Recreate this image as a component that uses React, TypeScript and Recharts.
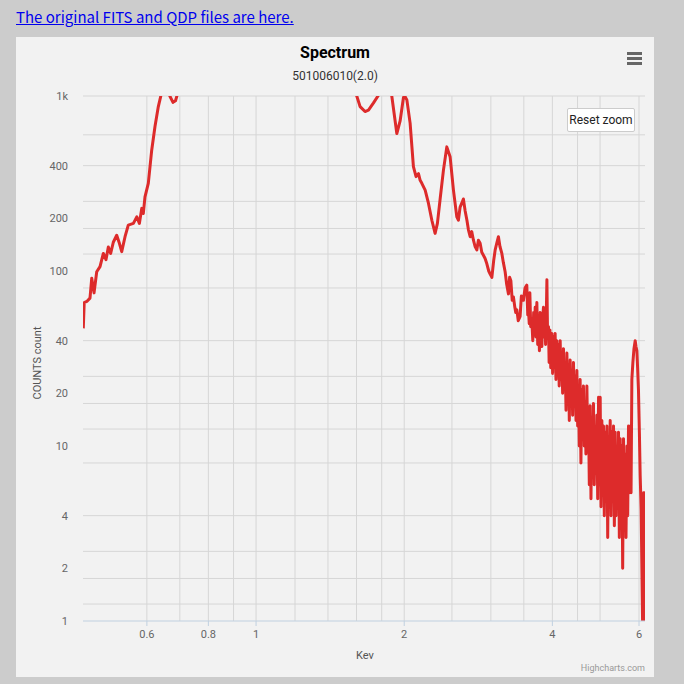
import React from 'react';
import { LineChart, Line, XAxis, YAxis, CartesianGrid } from 'recharts';

// energy (keV) and counts
const kev = [
  0.4456, 0.4475, 0.453, 0.4598, 0.4636, 0.4686, 0.4745, 0.4819, 0.4894, 0.4955,
  0.501, 0.5065, 0.5128, 0.521, 0.5276, 0.5334, 0.5417, 0.55, 0.5633, 0.5723,
  0.5793, 0.5858, 0.59, 0.5947, 0.604, 0.6137, 0.6232, 0.633, 0.643, 0.655,
  0.668, 0.678, 0.686, 0.694, 0.72, 0.76, 0.82, 0.9, 1.0, 1.1,
  1.2, 1.3, 1.4, 1.5, 1.57, 1.602, 1.627, 1.665, 1.692, 1.731,
  1.773, 1.8, 1.84, 1.87, 1.887, 1.932, 1.962, 1.993, 2.005, 2.025,
  2.056, 2.088, 2.114, 2.138, 2.155, 2.172, 2.206, 2.24, 2.276, 2.311,
  2.336, 2.366, 2.403, 2.441, 2.479, 2.518, 2.558, 2.577, 2.598, 2.618,
  2.638, 2.66, 2.682, 2.701, 2.723, 2.743, 2.765, 2.787, 2.809, 2.83,
  2.853, 2.875, 2.897, 2.92, 2.944, 2.97, 2.99, 3.014, 3.04, 3.061,
  3.085, 3.108, 3.13, 3.158, 3.18, 3.207, 3.23, 3.257, 3.275, 3.294,
  3.315, 3.334, 3.356, 3.37, 3.388, 3.41, 3.44, 3.46, 3.494, 3.52,
  3.549, 3.565, 3.577, 3.59, 3.6, 3.615, 3.634, 3.65, 3.665, 3.68,
  3.691, 3.705, 3.72, 3.735, 3.749, 3.765, 3.778, 3.793, 3.808, 3.825,
  3.837, 3.849, 3.862, 3.875, 3.888, 3.899, 3.91, 3.928, 3.94, 3.955,
  3.97, 3.99, 4.005, 4.02, 4.035, 4.052, 4.068, 4.085, 4.1, 4.116,
  4.13, 4.149, 4.165, 4.18, 4.197, 4.213, 4.23, 4.247, 4.264, 4.281,
  4.298, 4.315, 4.33, 4.347, 4.365, 4.382, 4.398, 4.415, 4.432, 4.45,
  4.468, 4.486, 4.503, 4.52, 4.537, 4.555, 4.572, 4.59, 4.608, 4.626,
  4.644, 4.662, 4.68, 4.701, 4.718, 4.736, 4.755, 4.774, 4.792, 4.81,
  4.829, 4.848, 4.866, 4.886, 4.905, 4.926, 4.945, 4.965, 4.985, 5.003,
  5.022, 5.042, 5.06, 5.081, 5.1, 5.12, 5.14, 5.163, 5.182, 5.202,
  5.222, 5.243, 5.263, 5.284, 5.304, 5.325, 5.346, 5.367, 5.388, 5.41,
  5.43, 5.451, 5.472, 5.494, 5.516, 5.537, 5.558, 5.58, 5.6, 5.622,
  5.645, 5.669, 5.69, 5.712, 5.735, 5.757, 5.78, 5.802, 5.83, 5.86,
  5.893, 5.915, 5.94, 5.96, 5.984, 6.01, 6.032, 6.06, 6.1, 6.13,
  6.15, 6.17,
];

const counts = [
  47, 66, 67, 70, 91, 75, 99, 106, 126, 116,
  137, 126, 146, 160, 144, 129, 157, 183, 187, 204,
  187, 228, 213, 265, 317, 490, 670, 870, 1050, 1250,
  1000, 920, 940, 1050, 1400, 1800, 2300, 2600, 2700, 2500,
  2200, 1900, 1600, 1300, 1100, 1000, 870, 815, 830, 910,
  1010, 1150, 1250, 1100, 1000, 610, 720, 980, 1000, 950,
  700, 395, 346, 360, 330, 317, 290, 244, 195, 164,
  187, 258, 377, 512, 450, 290, 204, 195, 232, 244,
  258, 220, 195, 172, 157, 168, 150, 138, 132, 150,
  144, 128, 123, 118, 110, 100, 96, 92, 115, 132,
  145, 157, 138, 126, 112, 99, 84, 74, 92, 88,
  68, 71, 62, 58, 60, 52, 55, 72, 68, 80,
  83, 56, 60, 50, 75, 48, 52, 40, 58, 44,
  62, 42, 66, 38, 52, 35, 58, 40, 37, 55,
  62, 42, 60, 38, 56, 89, 46, 48, 30, 46,
  28, 44, 26, 42, 30, 44, 24, 40, 27, 38,
  22, 40, 24, 34, 20, 36, 22, 30, 16, 34,
  19, 29, 14, 31, 18, 27, 15, 30, 17, 25,
  14, 27, 13, 22, 10, 24, 8, 21, 12, 22,
  10, 18, 9, 22, 11, 16, 6, 17, 5, 14,
  8, 17.5, 6, 13, 7, 15, 5, 19, 6, 19,
  4.5, 14, 7, 13, 4, 12, 5, 13, 3, 11,
  6, 14, 4, 12, 5, 13, 3.5, 12, 4, 10,
  5, 12, 3, 11, 5, 10, 2, 11, 4, 9,
  3, 10, 4, 13, 5.4, 13, 5.4, 24, 30, 36,
  40, 37, 35, 28, 21, 12, 6.8, 4.3, 1, 5.4,
  5.4, 1,
];

const xTicks = [0.6, 0.8, 1, 2, 4, 6];
const yTicks = [1, 2, 4, 10, 20, 40, 100, 200, 400, 1000];

const xGrid = [
  0.6, 0.65, 0.7, 0.75, 0.8, 0.85, 0.9, 0.95, 1, 1.2, 1.4, 1.5, 1.6, 1.8,
  2, 2.5, 3, 3.5, 4, 4.5, 5, 5.5, 6,
];
const yGrid = [
  1, 1.25, 1.5, 1.75, 2, 2.5, 3, 3.5, 4, 6, 8,
  10, 12.5, 15, 17.5, 20, 25, 30, 35, 40, 60, 80,
  100, 125, 150, 175, 200, 250, 300, 350, 400, 600, 800, 1000,
];

const font = 'Roboto, "Noto Sans", sans-serif';

const App: React.FC = () => {
  const chartData = kev.map((k, i) => ({ kev: k, counts: counts[i] }));

  return (
    <div style={{ position: 'absolute', left: 0, top: 0, width: 684, height: 684, background: '#cccccc', fontFamily: font }}>
      <a
        href="#"
        style={{ position: 'absolute', left: 16, top: 6, fontSize: 15, color: '#0000ee', fontFamily: '"Noto Sans CJK JP", sans-serif', textDecoration: 'underline' }}
      >
        The original FITS and QDP files are here.
      </a>

      <div style={{ position: 'absolute', left: 16, top: 37, width: 638, height: 640, background: '#f2f2f2' }} />

      <div style={{ position: 'absolute', left: 0, top: 0 }}>
        <LineChart width={684} height={684} data={chartData} margin={{ top: 96, right: 39, bottom: 33, left: 53 }}>
          <CartesianGrid stroke="#d6d6d6" horizontalValues={yGrid} verticalValues={xGrid} />
          <XAxis
            dataKey="kev"
            type="number"
            scale="log"
            domain={[0.445, 6.17]}
            allowDataOverflow
            ticks={xTicks}
            height={30}
            axisLine={{ stroke: '#c0d0e0' }}
            tickLine={{ stroke: '#c0d0e0' }}
            tickSize={5}
            tickMargin={4}
            tick={{ fill: '#666', fontSize: 11, fontFamily: font }}
          />
          <YAxis
            type="number"
            scale="log"
            domain={[1, 1000]}
            allowDataOverflow
            ticks={yTicks}
            width={30}
            axisLine={false}
            tickLine={false}
            tickSize={0}
            tickMargin={15}
            tick={{ fill: '#666', fontSize: 11, fontFamily: font }}
            tickFormatter={(v: number) => (v >= 1000 ? `${v / 1000}k` : `${v}`)}
          />
          <Line
            type="linear"
            dataKey="counts"
            stroke="#dd2b2b"
            strokeWidth={3}
            strokeLinejoin="round"
            dot={false}
            isAnimationActive={false}
          />
        </LineChart>
      </div>

      <div style={{ position: 'absolute', left: 16, width: 638, top: 43, textAlign: 'center', fontSize: 16, fontWeight: 'bold', color: '#000', lineHeight: '20px' }}>
        Spectrum
      </div>
      <div style={{ position: 'absolute', left: 16, width: 638, top: 68, textAlign: 'center', fontSize: 12, color: '#333', lineHeight: '16px' }}>
        501006010(2.0)
      </div>

      {/* menu icon */}
      <div style={{ position: 'absolute', left: 627, top: 52, width: 15, height: 3, background: '#666' }} />
      <div style={{ position: 'absolute', left: 627, top: 57, width: 15, height: 3, background: '#666' }} />
      <div style={{ position: 'absolute', left: 627, top: 62, width: 15, height: 3, background: '#666' }} />

      <div
        style={{
          position: 'absolute', left: 567, top: 108, width: 68, height: 24, boxSizing: 'border-box',
          background: '#fff', border: '1px solid #cccccc', borderRadius: 2, fontSize: 12, color: '#222',
          display: 'flex', alignItems: 'center', justifyContent: 'center',
        }}
      >
        Reset zoom
      </div>

      <div style={{ position: 'absolute', left: 37, top: 363, transform: 'translate(-50%, -50%) rotate(-90deg)', whiteSpace: 'nowrap', fontSize: 11, color: '#555' }}>
        COUNTS count
      </div>
      <div style={{ position: 'absolute', left: 365, top: 655, transform: 'translate(-50%, -50%)', fontSize: 11, color: '#555' }}>
        Kev
      </div>
      <div style={{ position: 'absolute', right: 684 - 645, top: 662, fontSize: 9, color: '#999', lineHeight: '12px' }}>
        Highcharts.com
      </div>
    </div>
  );
};

export default App;
